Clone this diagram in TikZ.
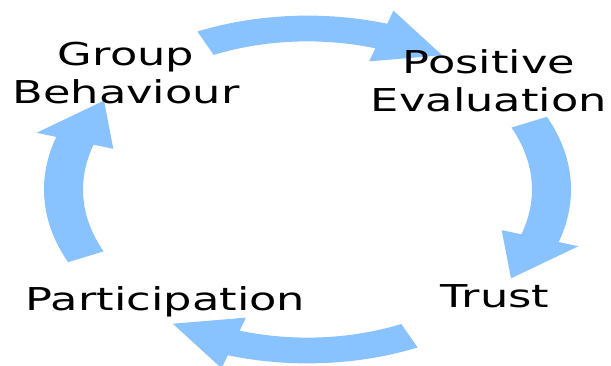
\documentclass[tikz,border=0pt]{standalone}
\usepackage{graphicx}
\usepackage{fontspec}
\setmainfont{DejaVu Sans}
\definecolor{cyclefill}{RGB}{136,194,255}
% labels are set wide, like the stretched artwork around them
\newcommand\widetext[1]{\scalebox{1.42}[1]{#1}}
\begin{document}
\begin{tikzpicture}[x=1pt,y=1pt,
  stagetext/.style={font=\fontsize{31.5}{38}\selectfont, align=center, inner sep=0pt, text=black},
  cyclearrow/.style={fill=cyclefill, draw=none}]
\useasboundingbox (0,0) rectangle (611,366);
% four thick curved arrows on an ellipse, drawn in unit-circle coordinates
\begin{scope}[shift={(307.5,176.5)}, x=244pt, y=161pt]
  \foreach \k in {0,1,2,3} {
    \pgfmathsetmacro\ta{114.7-90*\k}
    \pgfmathsetmacro\tb{\ta-42.3}
    \pgfmathsetmacro\tc{\ta-58.2}
    \fill[cyclearrow]
      plot[domain=\ta:\tb, samples=30] ({1.08*cos(\x)},{1.08*sin(\x)})
      -- (\tb:1.165) -- (\tc:1) -- (\tb:0.835)
      -- plot[domain=\tb:\ta, samples=30] ({0.92*cos(\x)},{0.92*sin(\x)})
      -- cycle;
  }
\end{scope}
% stage labels
\node[stagetext] (group) at (126,293) {\widetext{Group}\\\widetext{Behaviour}};
\node[stagetext] (posev) at (489,285.5) {\widetext{Positive}\\\widetext{Evaluation}};
\node[stagetext, anchor=base] (trust) at (495,58) {\widetext{Trust}};
\node[stagetext, anchor=base] (part) at (165.5,55) {\widetext{Participation}};
\end{tikzpicture}
\end{document}
